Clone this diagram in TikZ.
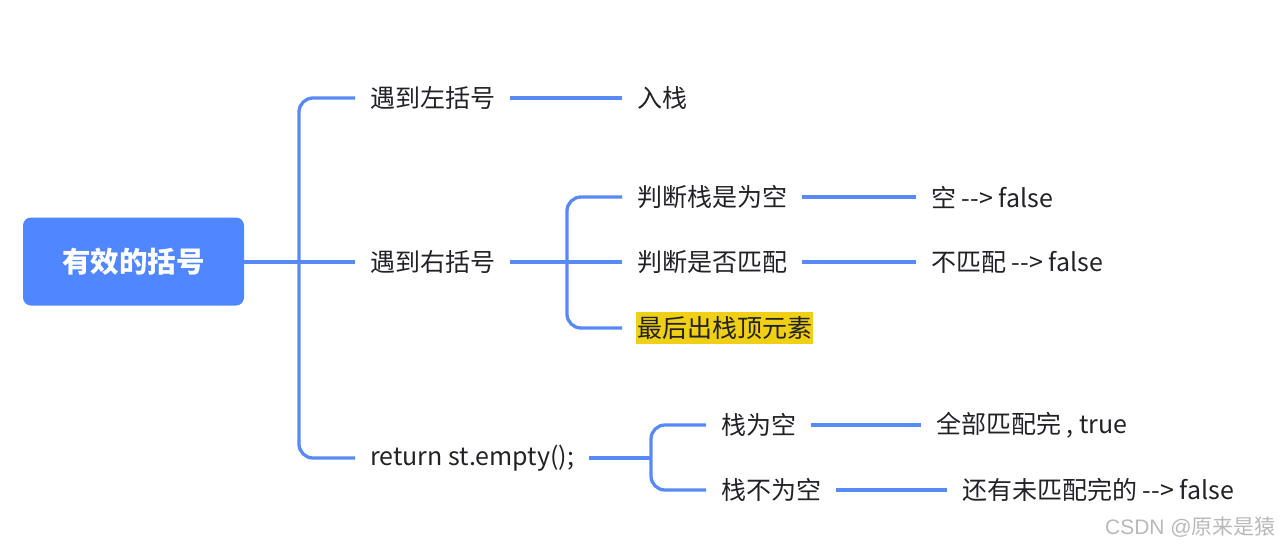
\documentclass[tikz,border=0pt]{standalone}
\usepackage{fontspec}
\setmainfont{Noto Sans CJK SC}
\newfontfamily\wmlatin{Liberation Sans}
\definecolor{lineblue}{RGB}{88,138,247}
\definecolor{rootblue}{RGB}{80,134,255}
\definecolor{textgray}{RGB}{34,34,38}
\definecolor{hlyellow}{RGB}{240,208,20}
\definecolor{wmgray}{RGB}{185,185,185}
\begin{document}
\begin{tikzpicture}[x=1pt,y=-1pt,
  conn/.style={draw=lineblue,line width=3.3pt,rounded corners=14pt},
  txt/.style={anchor=west,inner xsep=15pt,inner ysep=0pt,font=\fontsize{25}{29}\selectfont,text=textgray},
  hl/.style={anchor=west,inner xsep=1pt,inner ysep=4.5pt,fill=hlyellow,font=\fontsize{25}{29}\selectfont,text=textgray},
  root/.style={fill=rootblue,rounded corners=8pt,minimum width=221pt,minimum height=88pt,text=white,font=\fontsize{28.5}{32}\selectfont\bfseries},
  wm/.style={anchor=east,inner sep=0pt,text=wmgray,font=\fontsize{21}{24}\selectfont}]
\useasboundingbox (0,0) rectangle (1282,549);
\node[root] (root) at (133.5,261.5) {有效的括号};
% level 1
\node[txt] (a1) at (355,98) {遇到左括号};
\node[txt] (a2) at (355,262) {遇到右括号};
\node[txt] (a3) at (355,458) {return st.empty();};
\coordinate (f1) at (299,262);
\draw[conn] (root.east |- f1) -- (a2.west);
\draw[conn] (a1.west) -| (f1) |- (a3.west);
% branch a1
\node[txt] (b1) at (622,98) {入栈};
\draw[conn] (a1.east) -- (b1.west);
% branch a2
\node[txt] (b2) at (622,197) {判断栈是为空};
\node[txt] (b3) at (622,262) {判断是否匹配};
\node[hl] (b4) at (636,328) {最后出栈顶元素};
\coordinate (f2) at (567,262);
\coordinate (b4w) at (622,328);
\draw[conn] (a2.east) -- (b3.west);
\draw[conn] (b2.west) -| (f2) |- (b4w);
\node[txt] (c1) at (916,197) {空 -{}-> false};
\node[txt] (c2) at (916,262) {不匹配 -{}-> false};
\draw[conn] (b2.east) -- (c1.west);
\draw[conn] (b3.east) -- (c2.west);
% branch a3
\node[txt] (d1) at (706,425) {栈为空};
\node[txt] (d2) at (706,490) {栈不为空};
\coordinate (f3) at (651,458);
\draw[conn] (a3.east) -- (f3);
\draw[conn] (d1.west) -| (f3) |- (d2.west);
\node[txt] (e1) at (921,425) {全部匹配完 , true};
\node[txt] (e2) at (947,490) {还有未匹配完的 -{}-> false};
\draw[conn] (d1.east) -- (e1.west);
\draw[conn] (d2.east) -- (e2.west);
% watermark
\node[wm] (wm) at (1276,527) {{\wmlatin CSDN @}原来是猿};
\end{tikzpicture}
\end{document}
